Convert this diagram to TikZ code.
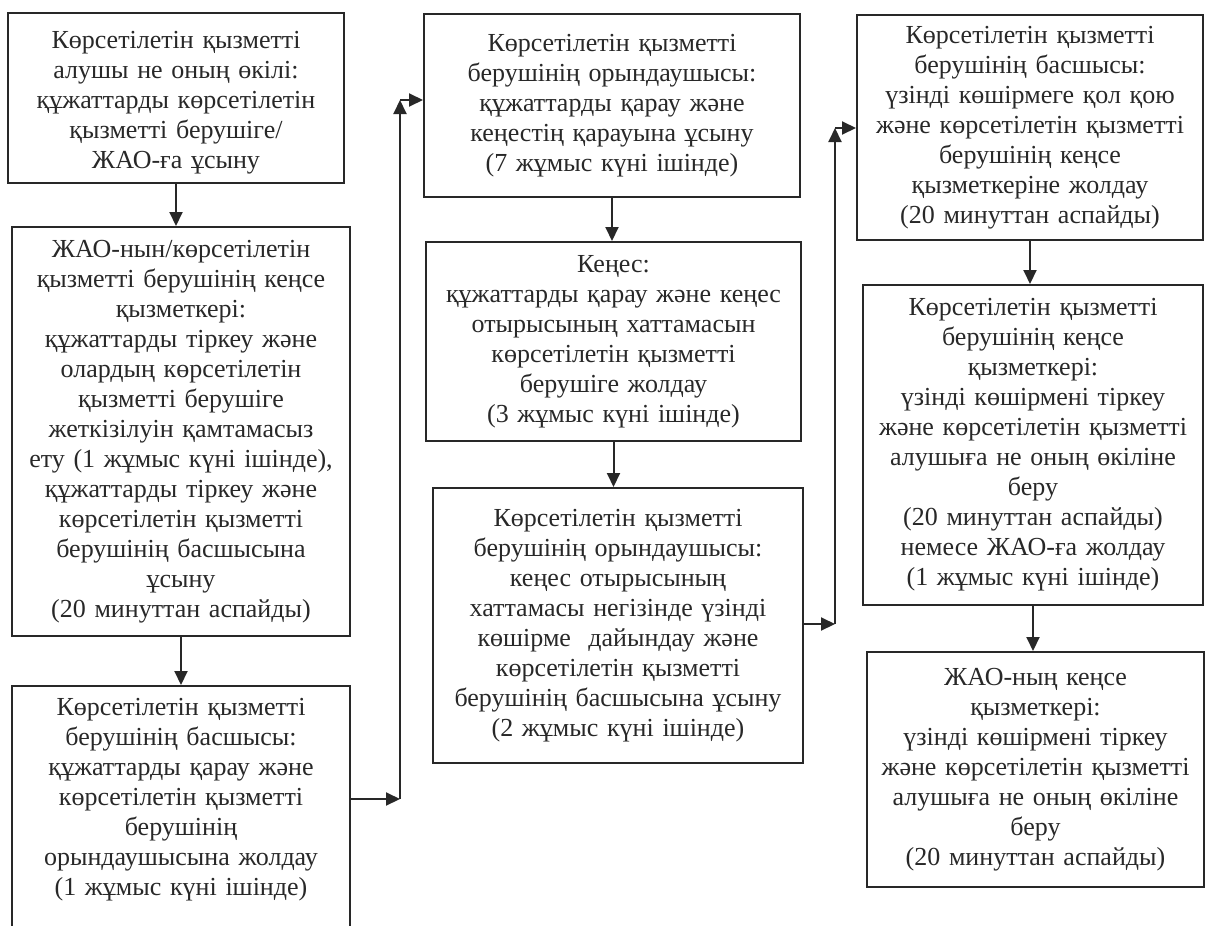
\documentclass[tikz,border=0pt]{standalone}
\usepackage{fontspec}
\setmainfont{Liberation Serif}
\usetikzlibrary{arrows.meta}
\definecolor{ink}{RGB}{40,40,40}

\begin{document}
\begin{tikzpicture}[x=0.5pt,y=-0.5pt,
  box/.style={draw=ink,line width=1pt,align=center,inner sep=0pt,text=ink,
    font=\fontsize{13}{15}\selectfont},
  flow/.style={draw=ink,line width=1pt,-{Triangle[length=7pt,width=6.5pt]}}]
\useasboundingbox (0,0) rectangle (1205,926);
\clip (0,0) rectangle (1205,926);

% first column
\node[box,text width=168pt,minimum height=85pt] (alushy) at (176,98)
  {\rule{0pt}{13pt}Көрсетілетін қызметті\\ алушы не оның өкілі:\\ құжаттарды көрсетілетін\\
   қызметті берушіге/\\ ЖАО-ға ұсыну};
\node[box,text width=169pt,minimum height=204.5pt] (kense) at (181,431.5)
  {ЖАО-нын/көрсетілетін\\ қызметті берушінің кеңсе\\ қызметкері:\\
   құжаттарды тіркеу және\\ олардың көрсетілетін\\ қызметті берушіге\\
   жеткізілуін қамтамасыз\\ ету (1 жұмыс күні ішінде),\\ құжаттарды тіркеу және\\
   көрсетілетін қызметті\\ берушінің басшысына\\ ұсыну\\ (20 минуттан аспайды)};
\node[box,text width=169pt,inner ysep=6pt,anchor=north] (basshy) at (181,685)
  {Көрсетілетін қызметті\\ берушінің басшысы:\\ құжаттарды қарау және\\
   көрсетілетін қызметті\\ берушінің\\ орындаушысына жолдау\\
   (1 жұмыс күні ішінде)\rule[-40pt]{0pt}{1pt}};

% second column
\node[box,text width=188pt,minimum height=91.5pt] (oryndau) at (612,105.5)
  {Көрсетілетін қызметті\\ берушінің орындаушысы:\\ құжаттарды қарау және\\
   кеңестің қарауына ұсыну\\ (7 жұмыс күні ішінде)};
\node[box,text width=187.5pt,minimum height=99.5pt] (kenes) at (613.5,341.5)
  {Кеңес:\\ құжаттарды қарау және кеңес\\ отырысының хаттамасын\\
   көрсетілетін қызметті\\ берушіге жолдау\\ (3 жұмыс күні ішінде)};
\node[box,text width=185pt,minimum height=137.5pt] (koshirme) at (618,625.5)
  {Көрсетілетін қызметті\\ берушінің орындаушысы:\\ кеңес отырысының\\
   хаттамасы негізінде үзінді\\ көшірме~ дайындау және\\ көрсетілетін қызметті\\
   берушінің басшысына ұсыну\\ (2 жұмыс күні ішінде)};

% third column
\node[box,text width=173pt,minimum height=112.5pt] (qolqoy) at (1030,127.5)
  {Көрсетілетін қызметті\\ берушінің басшысы:\\ үзінді көшірмеге қол қою\\
   және көрсетілетін қызметті\\ берушінің кеңсе\\ қызметкеріне жолдау\\
   (20 минуттан аспайды)};
\node[box,text width=170pt,minimum height=160pt] (tirkeu) at (1033,445)
  {Көрсетілетін қызметті\\ берушінің кеңсе\\ қызметкері:\\
   үзінді көшірмені тіркеу\\ және көрсетілетін қызметті\\ алушыға не оның өкіліне\\
   беру\\ (20 минуттан аспайды)\\ немесе ЖАО-ға жолдау\\ (1 жұмыс күні ішінде)};
\node[box,text width=168.5pt,minimum height=117.5pt] (zhao) at (1035.5,769.5)
  {ЖАО-ның кеңсе\\ қызметкері:\\ үзінді көшірмені тіркеу\\
   және көрсетілетін қызметті\\ алушыға не оның өкіліне\\ беру\\
   (20 минуттан аспайды)};

% bends between columns
\coordinate (cd-low) at (400,799);
\coordinate (cd-high) at (400,100);
\coordinate (fg-low) at (835,624);
\coordinate (fg-high) at (835,128);

\path[every edge/.style={flow}]
  (alushy.south) edge (alushy.south |- kense.north)
  (kense.south) edge (kense.south |- basshy.north)
  (basshy.east |- cd-low) edge (cd-low)
  (cd-low) edge (cd-high)
  (cd-high) edge (oryndau.west |- cd-high)
  (oryndau.south) edge (oryndau.south |- kenes.north)
  (kenes.south) edge (kenes.south |- koshirme.north)
  (koshirme.east |- fg-low) edge (fg-low)
  (fg-low) edge (fg-high)
  (fg-high) edge (qolqoy.west |- fg-high)
  (qolqoy.south) edge (qolqoy.south |- tirkeu.north)
  (tirkeu.south) edge (tirkeu.south |- zhao.north);
\end{tikzpicture}
\end{document}
